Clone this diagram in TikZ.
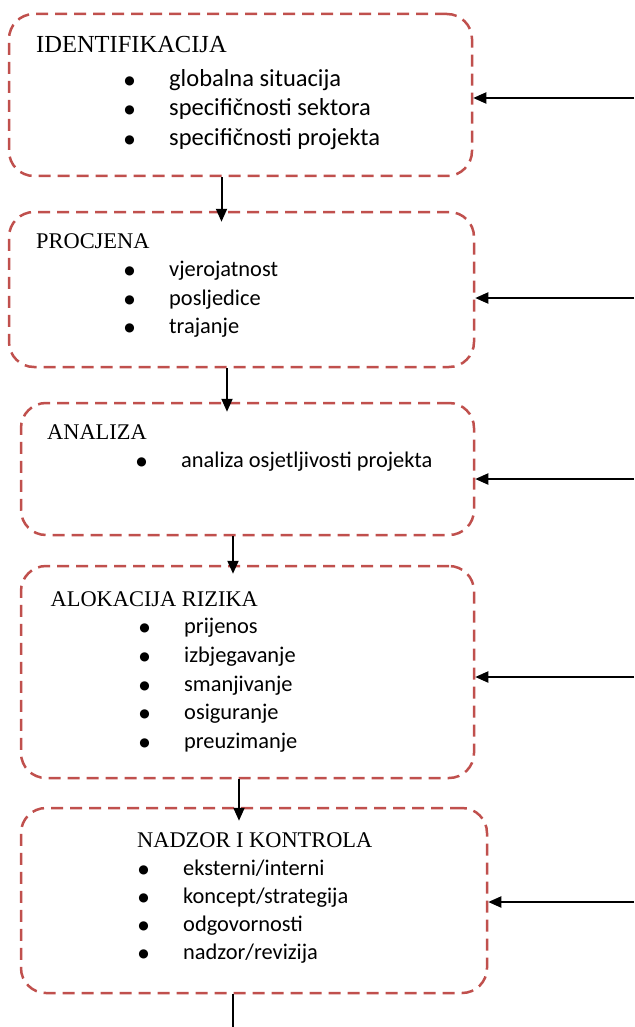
\documentclass[tikz,border=0pt]{standalone}
\usepackage{fontspec}
\setmainfont{Liberation Serif}
\newfontfamily\itemfont{Carlito}
\newfontfamily\bulfont{DejaVu Sans}
\usetikzlibrary{arrows.meta}
\definecolor{boxred}{RGB}{192,80,77}
\newcommand\itembul{\llap{\makebox[0pt][c]{\raisebox{2pt}{\bulfont\fontsize{12}{12}\selectfont ●}}\hspace{39.5pt}}}
\begin{document}
\begin{tikzpicture}[x=1pt,y=-1pt,
  stagebox/.style={draw=boxred, line width=2.5pt, dash pattern=on 12pt off 7pt,
    rounded corners=25pt, inner sep=0pt, rectangle},
  ttl/.style={anchor=base west, inner sep=0pt, font=\fontsize{22.4}{26}\selectfont},
  ttlbig/.style={ttl, font=\fontsize{24.5}{28}\selectfont},
  itm/.style={anchor=base west, inner sep=0pt, font=\itemfont\fontsize{22.4}{26}\selectfont},
  itmbig/.style={itm, font=\itemfont\fontsize{24.5}{28}\selectfont},
  arr/.style={line width=2pt, -{Triangle[length=13pt,width=11pt]}},
  plain/.style={line width=2pt}]
\useasboundingbox (0,0) rectangle (634,1027);

% boxes
\node[stagebox, minimum width=463pt, minimum height=162pt] (b1) at (240.5,95) {};
\node[stagebox, minimum width=465pt, minimum height=155pt] (b2) at (241.5,289.5) {};
\node[stagebox, minimum width=453pt, minimum height=132pt] (b3) at (247.5,469) {};
\node[stagebox, minimum width=453pt, minimum height=212pt] (b4) at (247.5,672) {};
\node[stagebox, minimum width=466pt, minimum height=185pt] (b5) at (254,900.5) {};

% titles
\node[ttlbig] (t1) at (36,53) {IDENTIFIKACIJA};
\node[ttl] (t2) at (36,248) {PROCJENA};
\node[ttl] (t3) at (47,439) {ANALIZA};
\node[ttl] (t4) at (50.5,606) {ALOKACIJA RIZIKA};
\node[ttl] (t5) at (137,847) {NADZOR I KONTROLA};

% items
\node[itmbig] (i11) at (169,86.7) {\itembul globalna situacija};
\node[itmbig] (i12) at (169,116) {\itembul specifičnosti sektora};
\node[itmbig] (i13) at (169,146) {\itembul specifičnosti projekta};

\node[itm] (i21) at (169,276) {\itembul vjerojatnost};
\node[itm] (i22) at (169,305) {\itembul posljedice};
\node[itm] (i23) at (169,333) {\itembul trajanje};

\node[itm] (i31) at (181,467) {\itembul analiza osjetljivosti projekta};

\node[itm] (i41) at (184,633) {\itembul prijenos};
\node[itm] (i42) at (184,662) {\itembul izbjegavanje};
\node[itm] (i43) at (184,691) {\itembul smanjivanje};
\node[itm] (i44) at (184,719) {\itembul osiguranje};
\node[itm] (i45) at (184,748) {\itembul preuzimanje};

\node[itm] (i51) at (183,875) {\itembul eksterni/interni};
\node[itm] (i52) at (183,903) {\itembul koncept/strategija};
\node[itm] (i53) at (183,931) {\itembul odgovornosti};
\node[itm] (i54) at (183,959) {\itembul nadzor/revizija};

% vertical connectors
\coordinate (x1) at (221.5,0);
\coordinate (x2) at (227,0);
\coordinate (x3) at (233,0);
\coordinate (x4) at (239,0);
\coordinate (x5) at (233,0);
\draw[arr] (b1.south -| x1) -- ([yshift=-11pt]b2.north -| x1);
\draw[arr] (b2.south -| x2) -- ([yshift=-10pt]b3.north -| x2);
\draw[arr] (b3.south -| x3) -- ([yshift=-9pt]b4.north -| x3);
\draw[arr] (b4.south -| x4) -- ([yshift=-14pt]b5.north -| x4);
\coordinate (e5) at (233,1027);
\draw[plain] (b5.south -| x5) -- (e5);

% side arrows
\coordinate (s1) at (634,98);
\coordinate (s2) at (634,298);
\coordinate (s3) at (634,479);
\coordinate (s4) at (634,677);
\coordinate (s5) at (634,902);
\draw[arr] (s1) -- (s1 -| b1.east);
\draw[arr] (s2) -- (s2 -| b2.east);
\draw[arr] (s3) -- (s3 -| b3.east);
\draw[arr] (s4) -- (s4 -| b4.east);
\draw[arr] (s5) -- (s5 -| b5.east);
\end{tikzpicture}
\end{document}
